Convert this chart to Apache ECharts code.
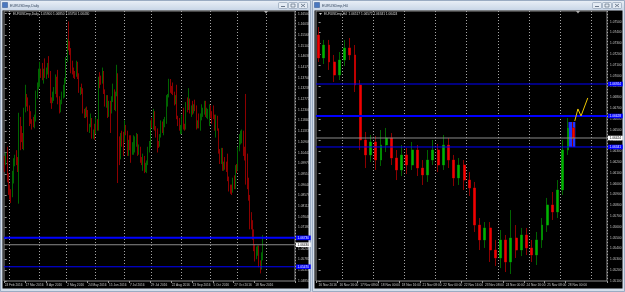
<!DOCTYPE html>
<html>
<head>
<meta charset="utf-8">
<title>EURUSDmp Daily / H4</title>
<script src="https://cdn.jsdelivr.net/npm/echarts@6.0.0/dist/echarts.min.js"></script>
<style>
html, body { margin: 0; padding: 0; background: #ccd7e5; }
#main { width: 625px; height: 292px; }
</style>
</head>
<body>
<div id="main"></div>
<script>
// ---- daily window ----
var dailyLabels = ['24 Feb 2016', '17 Mar 2016', '8 Apr 2016', '2 May 2016', '24 May 2016', '15 Jun 2016',
  '7 Jul 2016', '29 Jul 2016', '22 Aug 2016', '13 Sep 2016', '5 Oct 2016', '27 Oct 2016', '18 Nov 2016'];
var dailyLabelStep = 16;                 // one label every 16 bars
var dailyMonthLines = [4, 27, 48, 70, 92, 113, 136, 158, 179, 201];
var dailySlots = 223;                    // bars + empty shift space
// [open, close, low, high]
var dailyBars = [
  [1.1015, 1.1010, 1.0960, 1.1030], [1.1010, 1.1020, 1.0990, 1.1045], [1.1020, 1.0933, 1.0915, 1.1070],
  [1.0933, 1.0873, 1.0860, 1.0955], [1.0873, 1.0869, 1.0840, 1.0905], [1.0869, 1.0865, 1.0825, 1.0885],
  [1.0865, 1.0956, 1.0850, 1.0965], [1.0956, 1.1000, 1.0910, 1.1020], [1.1000, 1.1013, 1.0985, 1.1035],
  [1.1013, 1.1008, 1.0990, 1.1055], [1.1008, 1.0996, 1.0960, 1.1025], [1.0996, 1.1180, 1.0822, 1.1218],
  [1.1180, 1.1153, 1.1055, 1.1200], [1.1153, 1.1106, 1.1090, 1.1160], [1.1106, 1.1092, 1.1060, 1.1130],
  [1.1092, 1.1230, 1.1055, 1.1240], [1.1230, 1.1270, 1.1220, 1.1340], [1.1270, 1.1270, 1.1245, 1.1300],
  [1.1270, 1.1243, 1.1225, 1.1285], [1.1243, 1.1220, 1.1160, 1.1250], [1.1220, 1.1180, 1.1170, 1.1225],
  [1.1180, 1.1180, 1.1145, 1.1190], [1.1180, 1.1165, 1.1155, 1.1200], [1.1165, 1.1197, 1.1150, 1.1210],
  [1.1197, 1.1300, 1.1180, 1.1315], [1.1300, 1.1330, 1.1280, 1.1350], [1.1330, 1.1380, 1.1320, 1.1410],
  [1.1380, 1.1390, 1.1330, 1.1440], [1.1390, 1.1390, 1.1370, 1.1410], [1.1390, 1.1385, 1.1360, 1.1435],
  [1.1385, 1.1400, 1.1345, 1.1410], [1.1400, 1.1380, 1.1370, 1.1455], [1.1380, 1.1400, 1.1365, 1.1415],
  [1.1400, 1.1410, 1.1385, 1.1435], [1.1410, 1.1385, 1.1370, 1.1465], [1.1385, 1.1270, 1.1260, 1.1400],
  [1.1270, 1.1265, 1.1235, 1.1285], [1.1265, 1.1285, 1.1260, 1.1310], [1.1285, 1.1310, 1.1270, 1.1330],
  [1.1310, 1.1355, 1.1300, 1.1385], [1.1355, 1.1290, 1.1285, 1.1375], [1.1290, 1.1280, 1.1255, 1.1405],
  [1.1280, 1.1225, 1.1215, 1.1290], [1.1225, 1.1265, 1.1220, 1.1275], [1.1265, 1.1300, 1.1255, 1.1310],
  [1.1300, 1.1320, 1.1280, 1.1340], [1.1320, 1.1355, 1.1285, 1.1370], [1.1355, 1.1450, 1.1345, 1.1460],
  [1.1450, 1.1530, 1.1440, 1.1540], [1.1530, 1.1500, 1.1490, 1.1616], [1.1500, 1.1490, 1.1470, 1.1530],
  [1.1490, 1.1405, 1.1390, 1.1500], [1.1405, 1.1402, 1.1385, 1.1445], [1.1402, 1.1385, 1.1370, 1.1415],
  [1.1385, 1.1380, 1.1365, 1.1400], [1.1380, 1.1430, 1.1375, 1.1445], [1.1430, 1.1375, 1.1365, 1.1440],
  [1.1375, 1.1310, 1.1305, 1.1390], [1.1310, 1.1315, 1.1295, 1.1330], [1.1315, 1.1315, 1.1300, 1.1345],
  [1.1315, 1.1220, 1.1215, 1.1325], [1.1220, 1.1205, 1.1195, 1.1235], [1.1205, 1.1225, 1.1195, 1.1240],
  [1.1225, 1.1220, 1.1200, 1.1245], [1.1220, 1.1140, 1.1135, 1.1230], [1.1140, 1.1160, 1.1130, 1.1170],
  [1.1160, 1.1190, 1.1155, 1.1215], [1.1190, 1.1115, 1.1105, 1.1195], [1.1115, 1.1135, 1.1105, 1.1145],
  [1.1135, 1.1130, 1.1100, 1.1170], [1.1130, 1.1185, 1.1125, 1.1200], [1.1185, 1.1150, 1.1140, 1.1190],
  [1.1150, 1.1365, 1.1140, 1.1375], [1.1365, 1.1355, 1.1325, 1.1395], [1.1355, 1.1355, 1.1340, 1.1380],
  [1.1355, 1.1395, 1.1345, 1.1415], [1.1395, 1.1310, 1.1300, 1.1400], [1.1310, 1.1255, 1.1245, 1.1320],
  [1.1255, 1.1285, 1.1240, 1.1295], [1.1285, 1.1210, 1.1195, 1.1295], [1.1210, 1.1260, 1.1200, 1.1270],
  [1.1260, 1.1220, 1.1130, 1.1270], [1.1220, 1.1280, 1.1215, 1.1290], [1.1280, 1.1310, 1.1265, 1.1345],
  [1.1310, 1.1240, 1.1230, 1.1320], [1.1240, 1.1295, 1.1225, 1.1310], [1.1295, 1.1380, 1.1290, 1.1427],
  [1.1380, 1.1110, 1.0912, 1.1390], [1.1110, 1.1020, 1.0990, 1.1115], [1.1020, 1.1125, 1.1015, 1.1130],
  [1.1125, 1.1125, 1.1070, 1.1140], [1.1125, 1.1105, 1.1030, 1.1135], [1.1105, 1.1160, 1.1090, 1.1185],
  [1.1160, 1.1135, 1.1120, 1.1165], [1.1135, 1.1070, 1.1030, 1.1140], [1.1070, 1.1090, 1.1030, 1.1100],
  [1.1090, 1.1060, 1.1055, 1.1120], [1.1060, 1.1050, 1.1000, 1.1120], [1.1050, 1.1055, 1.1035, 1.1090],
  [1.1055, 1.1060, 1.1035, 1.1120], [1.1060, 1.1090, 1.1045, 1.1115], [1.1090, 1.1120, 1.1070, 1.1130],
  [1.1120, 1.1040, 1.1030, 1.1125], [1.1040, 1.1065, 1.1035, 1.1080], [1.1065, 1.1020, 1.1000, 1.1070],
  [1.1020, 1.1000, 1.0990, 1.1025], [1.1000, 1.1025, 1.0965, 1.1040], [1.1025, 1.0975, 1.0955, 1.1030],
  [1.0975, 1.0990, 1.0960, 1.1000], [1.0990, 1.0995, 1.0955, 1.1010], [1.0995, 1.1060, 1.0990, 1.1070],
  [1.1060, 1.1075, 1.1045, 1.1095], [1.1075, 1.1175, 1.1065, 1.1185], [1.1175, 1.1160, 1.1150, 1.1195],
  [1.1160, 1.1220, 1.1145, 1.1235], [1.1220, 1.1150, 1.1140, 1.1225], [1.1150, 1.1130, 1.1110, 1.1160],
  [1.1130, 1.1085, 1.1045, 1.1150], [1.1085, 1.1085, 1.1065, 1.1095], [1.1085, 1.1115, 1.1070, 1.1125],
  [1.1115, 1.1175, 1.1110, 1.1185], [1.1175, 1.1140, 1.1130, 1.1180], [1.1140, 1.1165, 1.1120, 1.1190],
  [1.1165, 1.1180, 1.1155, 1.1200], [1.1180, 1.1280, 1.1170, 1.1295], [1.1280, 1.1290, 1.1245, 1.1300],
  [1.1290, 1.1355, 1.1285, 1.1366], [1.1355, 1.1325, 1.1305, 1.1365], [1.1325, 1.1320, 1.1300, 1.1335],
  [1.1320, 1.1305, 1.1295, 1.1350], [1.1305, 1.1265, 1.1250, 1.1310], [1.1265, 1.1285, 1.1255, 1.1295],
  [1.1285, 1.1200, 1.1190, 1.1340], [1.1200, 1.1190, 1.1160, 1.1205], [1.1190, 1.1150, 1.1140, 1.1195],
  [1.1150, 1.1155, 1.1125, 1.1165], [1.1155, 1.1195, 1.1125, 1.1210], [1.1195, 1.1155, 1.1145, 1.1240],
  [1.1155, 1.1150, 1.1140, 1.1170], [1.1150, 1.1255, 1.1145, 1.1265], [1.1255, 1.1235, 1.1220, 1.1285],
  [1.1235, 1.1260, 1.1230, 1.1325], [1.1260, 1.1230, 1.1215, 1.1280], [1.1230, 1.1240, 1.1200, 1.1250],
  [1.1240, 1.1220, 1.1210, 1.1270], [1.1220, 1.1245, 1.1215, 1.1255], [1.1245, 1.1240, 1.1225, 1.1275],
  [1.1240, 1.1155, 1.1145, 1.1250], [1.1155, 1.1170, 1.1150, 1.1185], [1.1170, 1.1155, 1.1150, 1.1215],
  [1.1155, 1.1190, 1.1140, 1.1215], [1.1190, 1.1210, 1.1185, 1.1255], [1.1210, 1.1225, 1.1200, 1.1240],
  [1.1225, 1.1255, 1.1210, 1.1270], [1.1255, 1.1210, 1.1200, 1.1270], [1.1210, 1.1215, 1.1195, 1.1240],
  [1.1215, 1.1225, 1.1190, 1.1235], [1.1225, 1.1240, 1.1160, 1.1255], [1.1240, 1.1205, 1.1195, 1.1250],
  [1.1205, 1.1205, 1.1170, 1.1225], [1.1205, 1.1205, 1.1190, 1.1250], [1.1205, 1.1150, 1.1140, 1.1210],
  [1.1150, 1.1200, 1.1110, 1.1210], [1.1200, 1.1145, 1.1140, 1.1205], [1.1145, 1.1045, 1.1040, 1.1150],
  [1.1045, 1.1005, 1.0995, 1.1060], [1.1005, 1.1055, 1.0995, 1.1065], [1.1055, 1.0970, 1.0965, 1.1065],
  [1.0970, 1.1000, 1.0965, 1.1005], [1.1000, 1.0975, 1.0970, 1.1025], [1.0975, 1.0975, 1.0960, 1.1005],
  [1.0975, 1.0930, 1.0920, 1.1040], [1.0930, 1.0885, 1.0875, 1.0940], [1.0885, 1.0880, 1.0865, 1.0905],
  [1.0880, 1.0875, 1.0860, 1.0905], [1.0875, 1.0920, 1.0870, 1.0935], [1.0920, 1.0895, 1.0885, 1.0945],
  [1.0895, 1.0980, 1.0885, 1.0990], [1.0980, 1.0980, 1.0955, 1.0995], [1.0980, 1.1055, 1.0965, 1.1070],
  [1.1055, 1.1100, 1.1050, 1.1125], [1.1100, 1.1105, 1.1080, 1.1140], [1.1105, 1.1135, 1.1085, 1.1145],
  [1.1135, 1.1040, 1.1030, 1.1140], [1.1040, 1.1030, 1.1010, 1.1070], [1.1030, 1.1020, 1.0905, 1.1300],
  [1.1020, 1.0895, 1.0885, 1.1040], [1.0895, 1.0855, 1.0835, 1.0935], [1.0855, 1.0735, 1.0710, 1.0860],
  [1.0735, 1.0720, 1.0710, 1.0785], [1.0720, 1.0695, 1.0665, 1.0750], [1.0695, 1.0620, 1.0615, 1.0710],
  [1.0620, 1.0590, 1.0570, 1.0645], [1.0590, 1.0625, 1.0580, 1.0635], [1.0625, 1.0630, 1.0595, 1.0640],
  [1.0630, 1.0550, 1.0545, 1.0640], [1.0550, 1.0545, 1.0518, 1.0575], [1.0545, 1.0590, 1.0535, 1.0610],
  [1.0590, 1.0643, 1.0575, 1.0685]
];
var dailyHLines = [1.0673, 1.0547];
var dailyBid = 1.0643;
var dailyPrice = { min: 1.0485, max: 1.16615, step: 0.00466 };

// ---- H4 window ----
var h4Labels = ['16 Nov 2016', '16 Nov 16:00', '17 Nov 08:00', '18 Nov 00:00', '18 Nov 16:00', '21 Nov 08:00',
  '22 Nov 00:00', '22 Nov 16:00', '23 Nov 08:00', '24 Nov 00:00', '24 Nov 16:00', '25 Nov 08:00', '28 Nov 00:00'];
var h4LabelStep = 4;
var h4DayLines = [5, 11, 17, 23, 29, 35, 41, 47, 53];
var h4Slots = 56;
var h4Bars = [
  [1.07378, 1.07165, 1.07128, 1.07452], [1.07165, 1.07285, 1.07109, 1.07332], [1.07285, 1.07128, 1.07054, 1.07332],
  [1.07128, 1.07007, 1.06943, 1.07193], [1.07007, 1.07146, 1.06961, 1.07220], [1.07146, 1.07258, 1.07091, 1.07332],
  [1.07258, 1.07193, 1.07146, 1.07350], [1.07193, 1.06915, 1.06850, 1.07285], [1.06915, 1.06406, 1.06313, 1.06961],
  [1.06406, 1.06267, 1.06146, 1.06480], [1.06267, 1.06387, 1.06202, 1.06452], [1.06387, 1.06220, 1.06128, 1.06443],
  [1.06220, 1.06359, 1.06165, 1.06498], [1.06359, 1.06424, 1.06294, 1.06517], [1.06424, 1.06239, 1.06174, 1.06470],
  [1.06239, 1.06128, 1.06035, 1.06313], [1.06128, 1.06267, 1.06072, 1.06359], [1.06267, 1.06174, 1.06091, 1.06332],
  [1.06174, 1.06313, 1.06128, 1.06387], [1.06313, 1.06146, 1.06072, 1.06359], [1.06146, 1.06082, 1.05989, 1.06220],
  [1.06082, 1.06220, 1.06017, 1.06313], [1.06220, 1.06313, 1.06174, 1.06406], [1.06313, 1.06174, 1.06109, 1.06369],
  [1.06174, 1.06359, 1.06128, 1.06452], [1.06359, 1.06220, 1.06146, 1.06424], [1.06220, 1.06054, 1.05980, 1.06267],
  [1.06054, 1.06174, 1.05989, 1.06239], [1.06174, 1.06035, 1.05943, 1.06220], [1.06035, 1.05961, 1.05887, 1.06109],
  [1.05961, 1.05618, 1.05554, 1.06017], [1.05618, 1.05480, 1.05387, 1.05683], [1.05480, 1.05591, 1.05406, 1.05646],
  [1.05591, 1.05387, 1.05276, 1.05646], [1.05387, 1.05313, 1.05239, 1.05480], [1.05313, 1.05480, 1.05220, 1.05572],
  [1.05480, 1.05276, 1.05183, 1.05526], [1.05276, 1.05498, 1.05165, 1.05757], [1.05498, 1.05387, 1.05313, 1.05618],
  [1.05387, 1.05526, 1.05331, 1.05591], [1.05526, 1.05406, 1.05341, 1.05591], [1.05406, 1.05341, 1.05276, 1.05480],
  [1.05341, 1.05480, 1.05248, 1.05554], [1.05480, 1.05618, 1.05406, 1.05683], [1.05618, 1.05804, 1.05554, 1.05869],
  [1.05804, 1.05739, 1.05665, 1.05924], [1.05739, 1.05943, 1.05683, 1.06035], [1.05943, 1.06313, 1.05896, 1.06406],
  [1.06313, 1.06517, 1.06267, 1.06609], [1.06517, 1.06424, 1.06341, 1.06572]
];
var h4HLines = [1.06924, 1.06628, 1.06341];
var h4Bid = 1.06424;
var h4Box = [[48.1, 1.06572], [49.4, 1.06341]];
var h4Trend = [[49.3, 1.06582], [49.9, 1.06693], [50.5, 1.06628], [51.8, 1.06795]];
var h4Price = { min: 1.0510, max: 1.0760, step: 0.001 };

// ---- styling ----
var FONT = 'Liberation Sans';
var textGrey = '#c8c8c8';
var dailyLineWidths = [2, 1];
var h4LineWidths = [1, 2, 1];

function f5(v) { return v.toFixed(5); }
function slots(n) { var a = []; for (var i = 0; i < n; i++) a.push(String(i)); return a; }

function timeAxis(grid, n, labels, step, gridLines) {
  var isLabel = function (i) { return i % step === 0 && i / step < labels.length; };
  return {
    type: 'category', gridIndex: grid, data: slots(n), boundaryGap: true,
    axisLine: { show: false },
    axisTick: { show: true, interval: isLabel, length: 2, lineStyle: { color: '#9a9a9a' } },
    axisLabel: {
      interval: isLabel, hideOverlap: false, align: 'left', margin: 2.5,
      fontSize: 3.2, fontFamily: FONT, color: textGrey,
      formatter: function (v, i) { return labels[i / step]; }
    },
    splitLine: {
      show: true, interval: function (i) { return gridLines.indexOf(i) >= 0; },
      lineStyle: { color: '#a6a6a6', width: 1, type: [1, 2] }
    }
  };
}

function slotAxis(grid, n) {
  return { type: 'value', gridIndex: grid, min: -0.5, max: n - 0.5, show: false };
}

function priceAxis(grid, p) {
  return {
    type: 'value', gridIndex: grid, position: 'right', min: p.min, max: p.max, interval: p.step,
    axisLine: { show: false },
    axisTick: { show: true, length: 2, lineStyle: { color: '#9a9a9a' } },
    axisLabel: {
      margin: 3, fontSize: 3.2, fontFamily: FONT, color: textGrey,
      showMaxLabel: false, formatter: f5
    },
    splitLine: { show: false }
  };
}

// horizontal line objects with their price tags, drawn as two-point lines across the slot axis
function levels(xi, yi, n, lines, widths, bid) {
  var out = lines.map(function (v, k) {
    return {
      type: 'line', xAxisIndex: xi, yAxisIndex: yi, z: 5, silent: true, symbol: 'none',
      data: [[-0.5, v], [n - 0.5, v]],
      lineStyle: { color: '#0000ff', width: widths[k] },
      endLabel: { show: true, distance: 1, formatter: f5(v), color: '#ffffff', backgroundColor: '#0000ff',
        fontSize: 3.2, fontFamily: FONT, padding: [0.8, 1.6] }
    };
  });
  out.push({
    type: 'line', xAxisIndex: xi, yAxisIndex: yi, z: 5, silent: true, symbol: 'none',
    data: [[-0.5, bid], [n - 0.5, bid]],
    lineStyle: { color: '#8a8a8a', width: 1 },
    endLabel: { show: true, distance: 1, formatter: f5(bid), color: '#000000', backgroundColor: '#ffffff',
      fontSize: 3.2, fontFamily: FONT, padding: [0.8, 1.6] }
  });
  return out;
}

function candles(xi, yi, bars, width) {
  return [
    { // wicks and outline
      type: 'candlestick', xAxisIndex: xi, yAxisIndex: yi, data: bars, barWidth: width, z: 3, silent: true,
      itemStyle: { color: '#005a00', color0: '#880000', borderColor: '#006400', borderColor0: '#8c0000',
        borderColorDoji: '#8c0000', borderWidth: 1 }
    },
    { // bodies
      type: 'candlestick', xAxisIndex: xi, yAxisIndex: yi, data: bars, barWidth: width, z: 4, silent: true,
      itemStyle: { color: '#00b400', color0: '#f20000', borderColor: '#00b400', borderColor0: '#f20000', borderWidth: 0 }
    }
  ];
}

function chrome(x, w, title) {
  var bx = x + w - 33;
  var els = [
    { type: 'rect', z: -30, shape: { x: x + 0.5, y: 0.5, width: w - 1, height: 291 },
      style: { fill: '#d3ddea', stroke: '#9aabc2', lineWidth: 1 } },
    { type: 'rect', z: -29, shape: { x: x + 1, y: 1, width: w - 2, height: 9 },
      style: { fill: new echarts.graphic.LinearGradient(0, 0, 0, 1, [
        { offset: 0, color: '#e8eef6' }, { offset: 1, color: '#c9d6e7' }]) } },
    { type: 'rect', z: -28, shape: { x: x + 2.5, y: 10.5, width: w - 5, height: 278 },
      style: { fill: '#000000' } },
    { type: 'rect', z: -27, shape: { x: x + 2.5, y: 2.5, width: 5, height: 5 },
      style: { fill: '#4a78c0', stroke: '#2a4f8a', lineWidth: 0.5 } },
    { type: 'text', z: -27, style: { x: x + 10, y: 5.5, text: title, fill: '#34465e',
      font: '3.6px ' + FONT, verticalAlign: 'middle' } }
  ];
  for (var k = 0; k < 3; k++) {
    els.push({ type: 'rect', z: -27, shape: { x: bx + k * 10 + 0.5, y: 2.5, width: 9, height: 6, r: 1 },
      style: { fill: '#e4ebf4', stroke: '#8797ad', lineWidth: 0.6 } });
  }
  els.push({ type: 'line', z: -26, shape: { x1: bx + 3, y1: 6.5, x2: bx + 7, y2: 6.5 }, style: { stroke: '#4a5a70', lineWidth: 0.8 } });
  els.push({ type: 'rect', z: -26, shape: { x: bx + 13, y: 4, width: 4, height: 3 }, style: { fill: 'none', stroke: '#4a5a70', lineWidth: 0.6 } });
  els.push({ type: 'line', z: -26, shape: { x1: bx + 23, y1: 4, x2: bx + 27, y2: 7 }, style: { stroke: '#4a5a70', lineWidth: 0.7 } });
  els.push({ type: 'line', z: -26, shape: { x1: bx + 27, y1: 4, x2: bx + 23, y2: 7 }, style: { stroke: '#4a5a70', lineWidth: 0.7 } });
  return els;
}

function infoText(x, name, bars) {
  var b = bars[bars.length - 1];
  return [
    { type: 'polygon', z: 20, shape: { points: [[x, 13], [x + 3, 13], [x + 1.5, 15]] }, style: { fill: '#d0d0d0' } },
    { type: 'text', z: 20, style: { x: x + 5, y: 14, verticalAlign: 'middle', fill: '#d8d8d8', font: '3.2px ' + FONT,
      text: name + '  ' + [b[0], b[3], b[2], b[1]].map(f5).join(' ') } }
  ];
}

function shiftMark(x) {
  return { type: 'polygon', z: 20, shape: { points: [[x - 2, 11], [x + 2, 11], [x, 13.5]] }, style: { fill: '#b0b0b0' } };
}

var graphics = [].concat(
  chrome(0, 311, 'EURUSDmp,Daily'),
  chrome(312, 313, 'EURUSDmp,H4'),
  infoText(8, 'EURUSDmp,Daily', dailyBars),
  infoText(319, 'EURUSDmp,H4', h4Bars),
  [shiftMark(266), shiftMark(578)]
);

var chart = echarts.init(document.getElementById('main'), null, { renderer: 'canvas' });
var option = {
  animation: false,
  backgroundColor: '#ccd7e5',
  graphic: graphics,
  grid: [
    { left: 4, top: 11, width: 291, height: 270, show: true, backgroundColor: '#000000',
      borderColor: '#8c8c8c', borderWidth: 1, containLabel: false, outerBoundsMode: 'none' },
    { left: 316, top: 11, width: 291, height: 270, show: true, backgroundColor: '#000000',
      borderColor: '#8c8c8c', borderWidth: 1, containLabel: false, outerBoundsMode: 'none' }
  ],
  xAxis: [
    timeAxis(0, dailySlots, dailyLabels, dailyLabelStep, dailyMonthLines),
    timeAxis(1, h4Slots, h4Labels, h4LabelStep, h4DayLines),
    slotAxis(0, dailySlots),
    slotAxis(1, h4Slots)
  ],
  yAxis: [
    priceAxis(0, dailyPrice),
    priceAxis(1, h4Price)
  ],
  series: [].concat(
    candles(0, 0, dailyBars, 1),
    candles(1, 1, h4Bars, 2.4),
    levels(2, 0, dailySlots, dailyHLines, dailyLineWidths, dailyBid),
    levels(3, 1, h4Slots, h4HLines, h4LineWidths, h4Bid),
    [
      { // rectangle object behind the last bars
        type: 'line', xAxisIndex: 3, yAxisIndex: 1, data: [], z: 1, silent: true,
        markArea: { silent: true, itemStyle: { color: '#1f32ff' },
          data: [[{ coord: h4Box[0] }, { coord: h4Box[1] }]] }
      },
      { // projected path
        type: 'line', xAxisIndex: 3, yAxisIndex: 1, data: h4Trend, z: 6, silent: true,
        symbol: 'none', lineStyle: { color: '#f0c800', width: 1 }
      }
    ]
  )
};
chart.setOption(option);
</script>
</body>
</html>
